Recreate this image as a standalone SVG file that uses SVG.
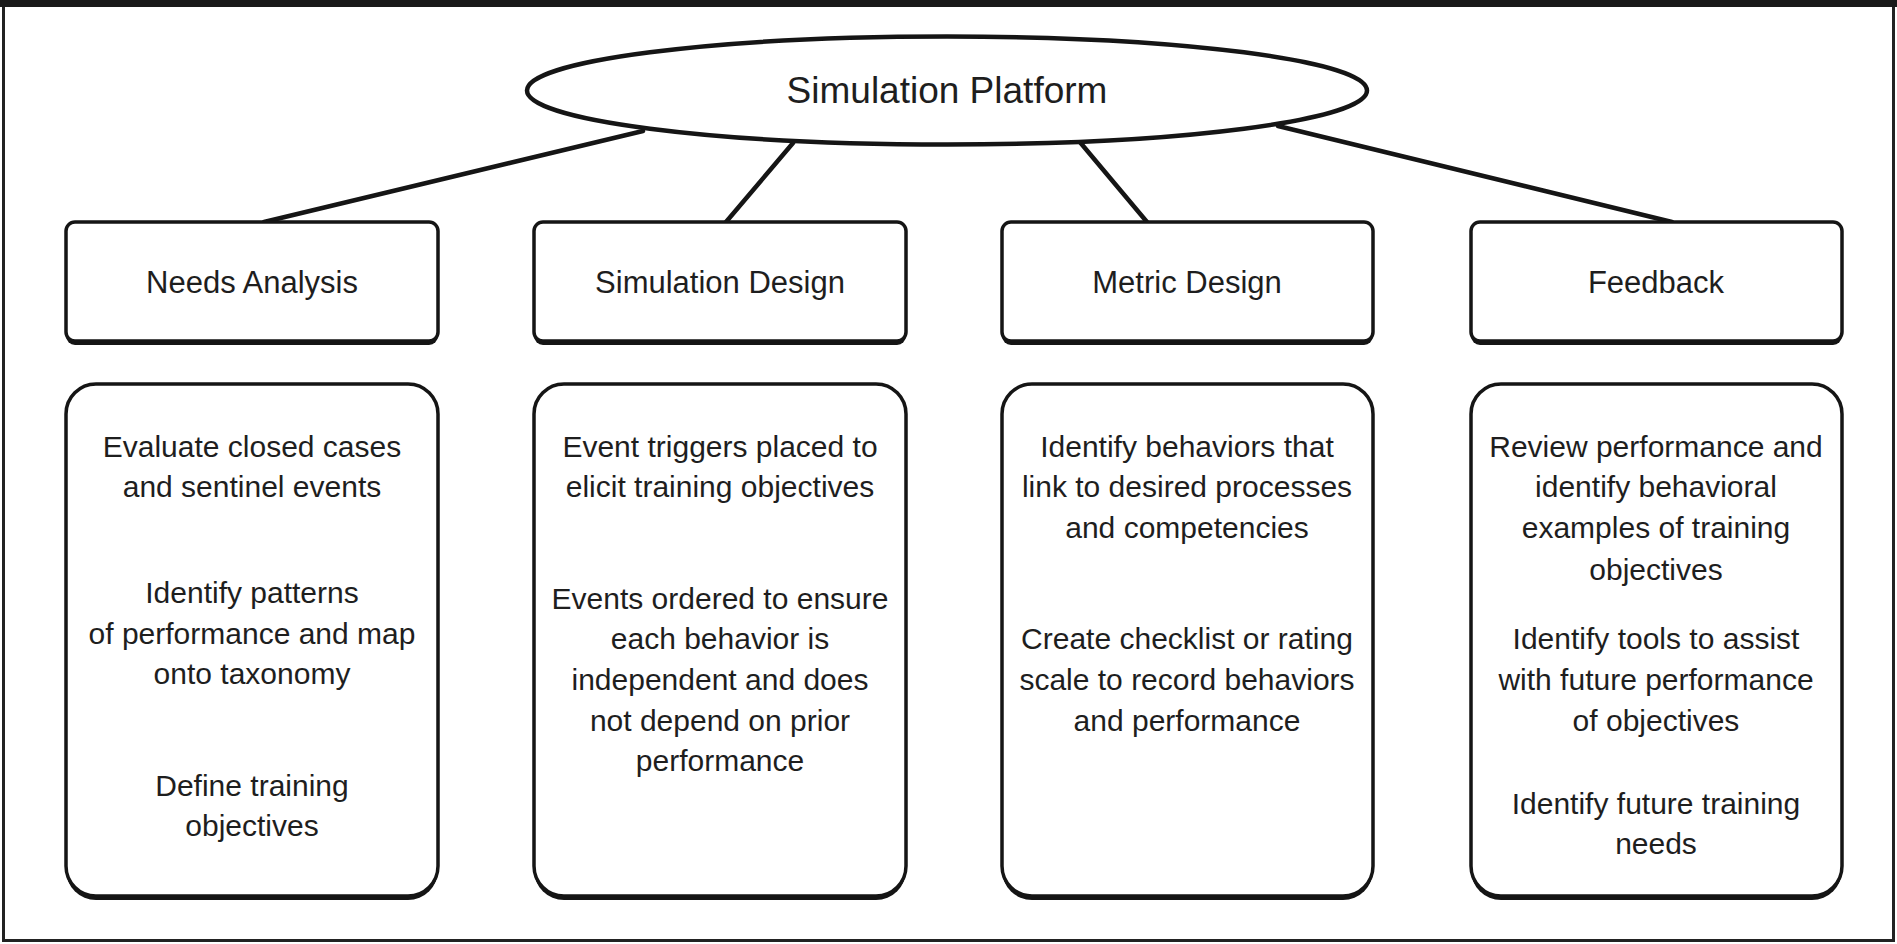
<svg xmlns="http://www.w3.org/2000/svg" width="1897" height="944" viewBox="0 0 1897 944">
<style>
.t{font-family:"Liberation Sans",Arial,sans-serif;fill:#1e1e1e;text-anchor:middle}
.h{font-size:31px}
.d{font-size:30px}
.box{fill:#fff;stroke:#151515;stroke-width:3.5}
.sh{fill:#151515}
.con{stroke:#151515;stroke-width:4.5;fill:none;stroke-linecap:round}
</style>
<rect x="0" y="0" width="1897" height="944" fill="#fff"/>
<g id="frame">
<rect x="3.5" y="3.5" width="1890" height="937" fill="none" stroke="#222" stroke-width="3"/>
<rect x="0" y="0" width="1897" height="7" fill="#1a1a1a"/>
</g>
<g id="connectors">
<line class="con" x1="643" y1="131" x2="264" y2="222"/>
<line class="con" x1="793" y1="143" x2="726" y2="222"/>
<line class="con" x1="1079" y1="141" x2="1147" y2="222"/>
<line class="con" x1="1278" y1="126" x2="1672" y2="222"/>
</g>
<g id="root">
<ellipse cx="947" cy="90.5" rx="420" ry="54" fill="#fff" stroke="#151515" stroke-width="4.5"/>
<text class="t" x="947" y="103" font-size="37">Simulation Platform</text>
</g>
<g id="needs-analysis">
<rect class="sh" x="66" y="225" width="372" height="120" rx="9"/>
<rect class="box" x="66" y="222" width="372" height="119" rx="9"/>
<text class="t h" x="252" y="293">Needs Analysis</text>
</g>
<g id="simulation-design">
<rect class="sh" x="534" y="225" width="372" height="120" rx="9"/>
<rect class="box" x="534" y="222" width="372" height="119" rx="9"/>
<text class="t h" x="720" y="293">Simulation Design</text>
</g>
<g id="metric-design">
<rect class="sh" x="1002" y="225" width="371" height="120" rx="9"/>
<rect class="box" x="1002" y="222" width="371" height="119" rx="9"/>
<text class="t h" x="1187" y="293">Metric Design</text>
</g>
<g id="feedback">
<rect class="sh" x="1471" y="225" width="371" height="120" rx="9"/>
<rect class="box" x="1471" y="222" width="371" height="119" rx="9"/>
<text class="t h" x="1656" y="293">Feedback</text>
</g>
<g id="needs-analysis-details">
<rect class="sh" x="66" y="388" width="372" height="512" rx="30"/>
<rect class="box" x="66" y="384" width="372" height="512" rx="30"/>
<text class="t d" x="252" y="457">Evaluate closed cases</text>
<text class="t d" x="252" y="497">and sentinel events</text>
<text class="t d" x="252" y="603">Identify patterns</text>
<text class="t d" x="252" y="644">of performance and map</text>
<text class="t d" x="252" y="684">onto taxonomy</text>
<text class="t d" x="252" y="796">Define training</text>
<text class="t d" x="252" y="836">objectives</text>
</g>
<g id="simulation-design-details">
<rect class="sh" x="534" y="388" width="372" height="512" rx="30"/>
<rect class="box" x="534" y="384" width="372" height="512" rx="30"/>
<text class="t d" x="720" y="457">Event triggers placed to</text>
<text class="t d" x="720" y="497">elicit training objectives</text>
<text class="t d" x="720" y="609">Events ordered to ensure</text>
<text class="t d" x="720" y="649">each behavior is</text>
<text class="t d" x="720" y="690">independent and does</text>
<text class="t d" x="720" y="731">not depend on prior</text>
<text class="t d" x="720" y="771">performance</text>
</g>
<g id="metric-design-details">
<rect class="sh" x="1002" y="388" width="371" height="512" rx="30"/>
<rect class="box" x="1002" y="384" width="371" height="512" rx="30"/>
<text class="t d" x="1187" y="457">Identify behaviors that</text>
<text class="t d" x="1187" y="497">link to desired processes</text>
<text class="t d" x="1187" y="538">and competencies</text>
<text class="t d" x="1187" y="649">Create checklist or rating</text>
<text class="t d" x="1187" y="690">scale to record behaviors</text>
<text class="t d" x="1187" y="731">and performance</text>
</g>
<g id="feedback-details">
<rect class="sh" x="1471" y="388" width="371" height="512" rx="30"/>
<rect class="box" x="1471" y="384" width="371" height="512" rx="30"/>
<text class="t d" x="1656" y="457">Review performance and</text>
<text class="t d" x="1656" y="497">identify behavioral</text>
<text class="t d" x="1656" y="538">examples of training</text>
<text class="t d" x="1656" y="580">objectives</text>
<text class="t d" x="1656" y="649">Identify tools to assist</text>
<text class="t d" x="1656" y="690">with future performance</text>
<text class="t d" x="1656" y="731">of objectives</text>
<text class="t d" x="1656" y="814">Identify future training</text>
<text class="t d" x="1656" y="854">needs</text>
</g>
</svg>
